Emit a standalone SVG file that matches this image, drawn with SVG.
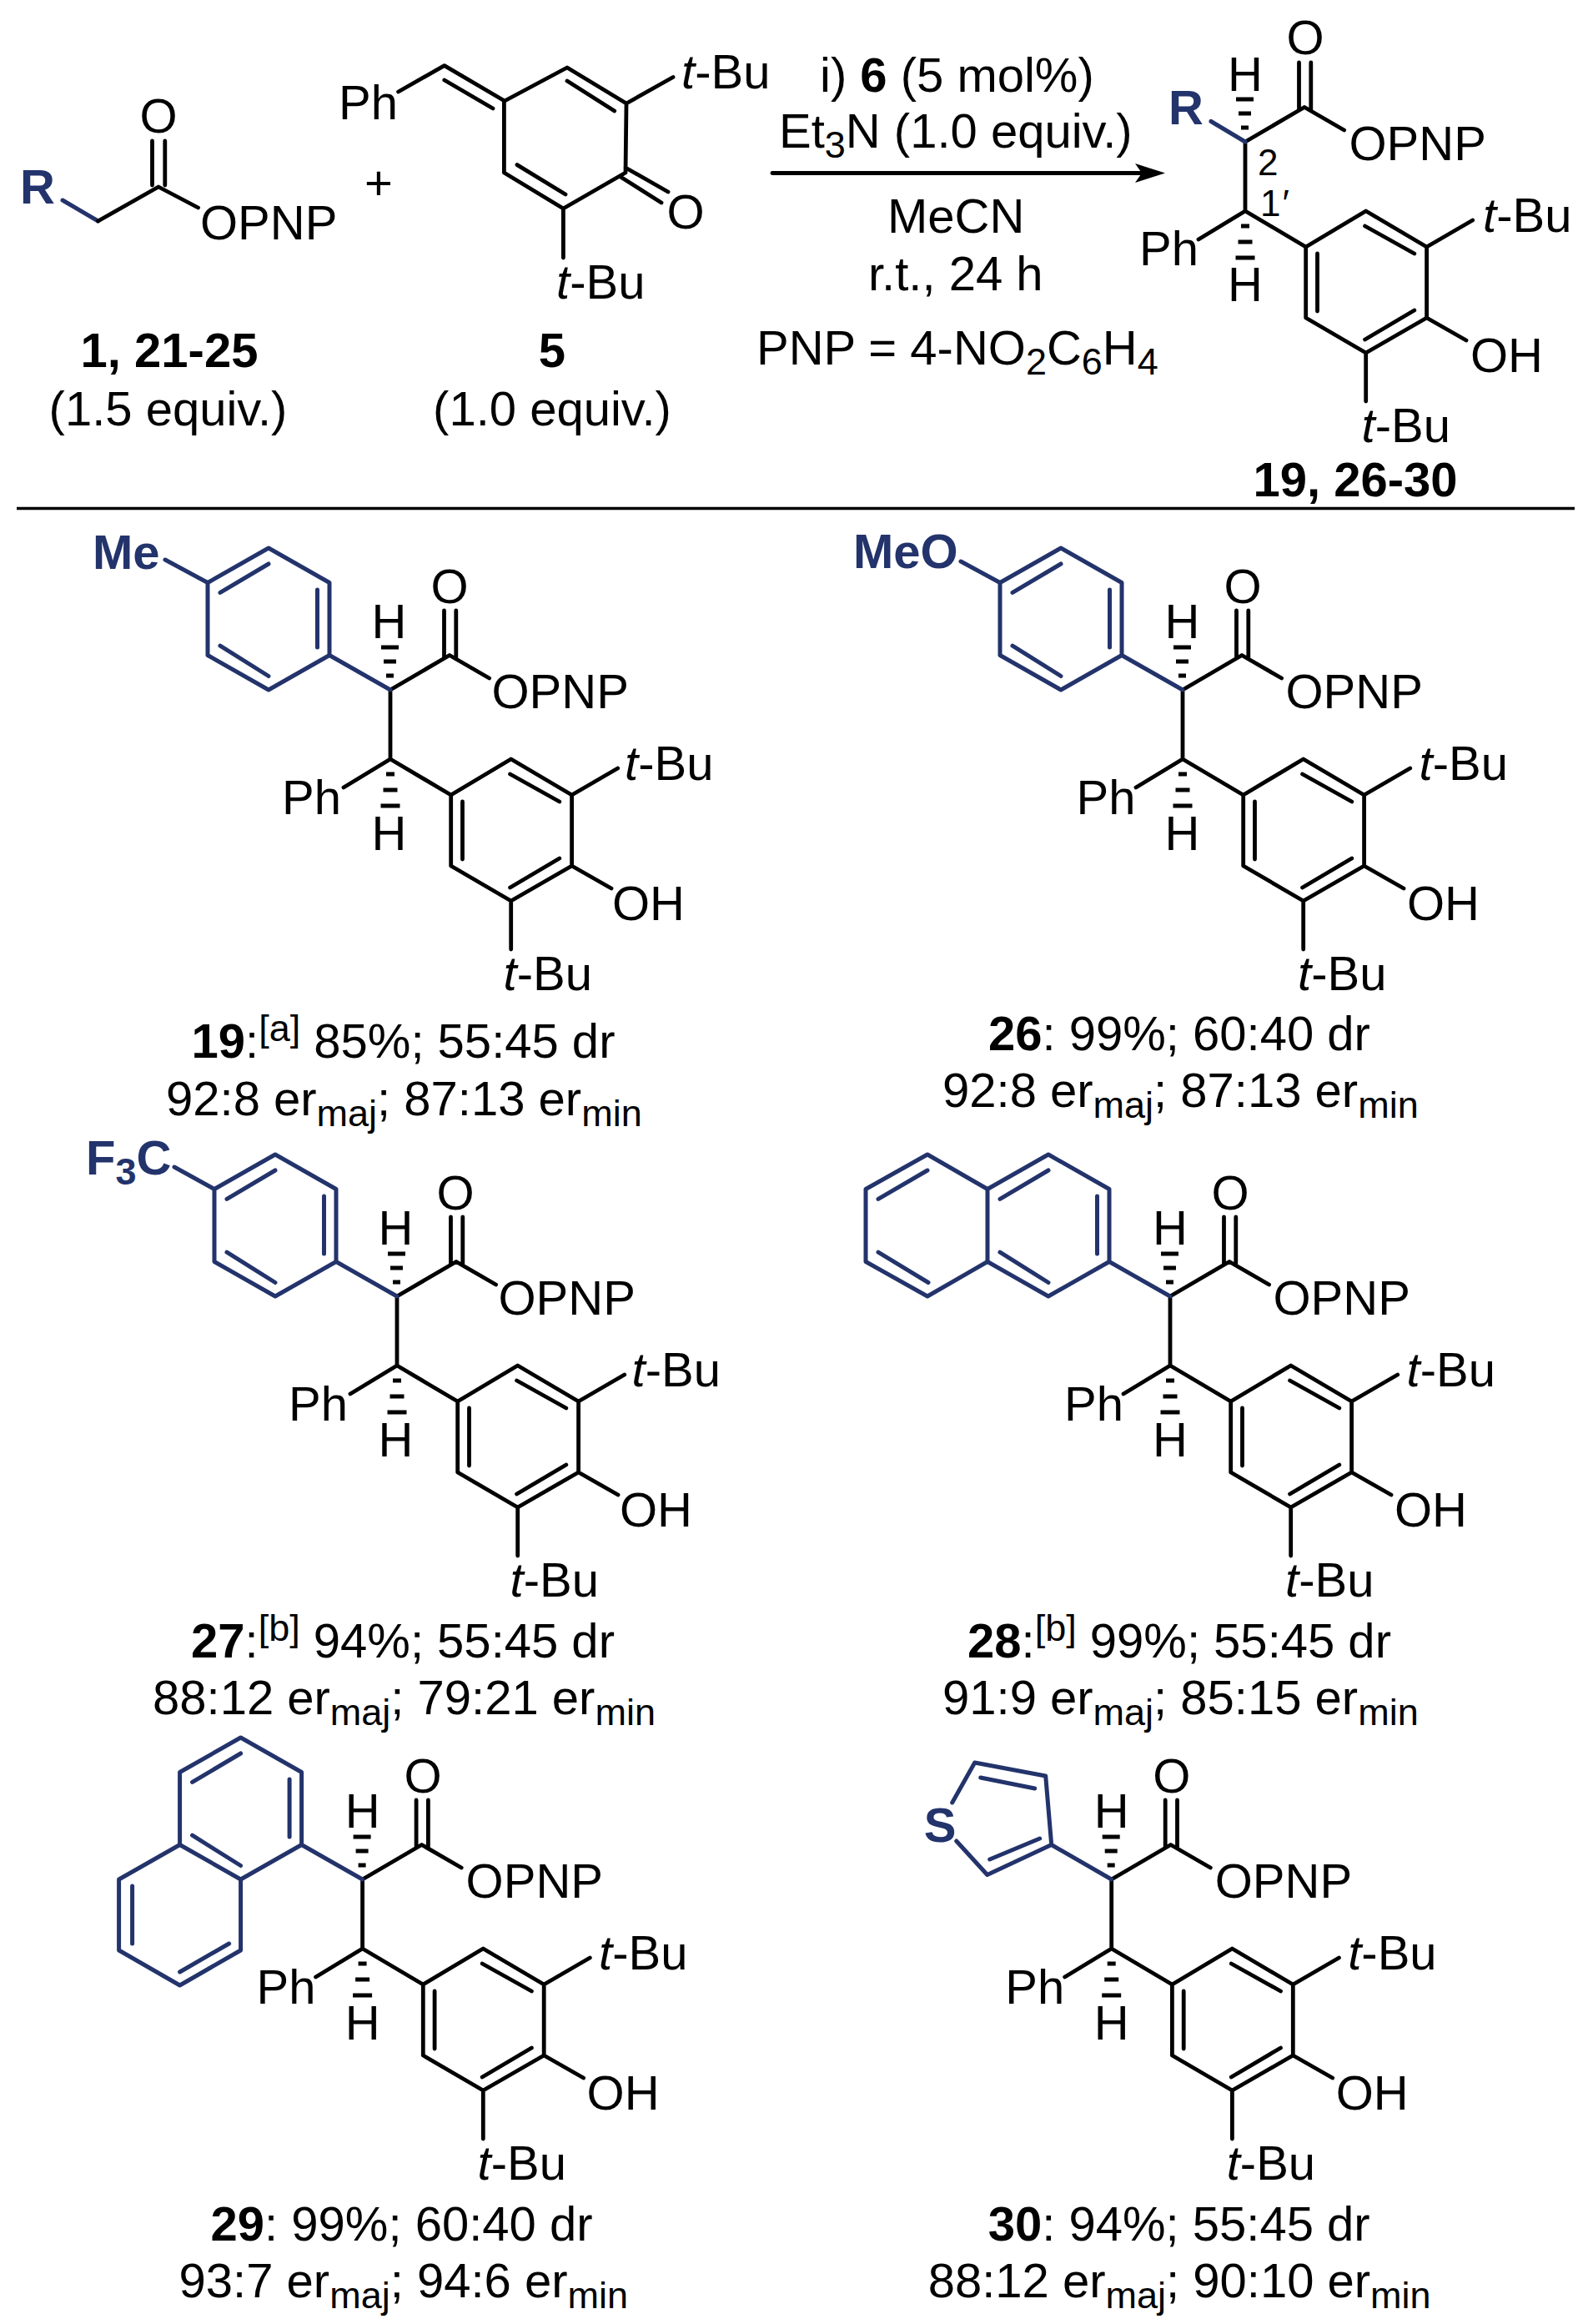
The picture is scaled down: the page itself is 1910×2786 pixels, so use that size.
<svg xmlns="http://www.w3.org/2000/svg" xmlns:xlink="http://www.w3.org/1999/xlink" width="1910" height="2786" viewBox="0 0 1910 2786">
<style>
text{font-family:"Liberation Sans",Arial,sans-serif;font-size:58px;fill:#000}
.m{text-anchor:middle}
.b{font-weight:bold}
.bl{font-weight:bold;fill:#23336b}
.i{font-style:italic}
.s{font-size:45px}
.n{font-size:44px}
.bond{fill:none;stroke:#000;stroke-width:4.8;stroke-linecap:round;stroke-linejoin:round}
.blue{fill:none;stroke:#23336b;stroke-width:5;stroke-linecap:round;stroke-linejoin:round}
.dash{fill:none;stroke:#000;stroke-width:5}
.rule{fill:none;stroke:#000;stroke-width:3.4}
</style>
<defs>
<path id="core" class="bond" d="M0 0V83M0 0L71 -41.5L118.6 -14M64.5 -95V-38M78.8 -95V-38M0 83L-56 117M0 83L72.7 126L144.7 83L217.6 126V211L144.7 253L72.7 211V126M143.6 101L202.8 134M86.5 134V203M143.6 237L202.8 202M217.6 126L272.7 94M217.6 211L265 238M144.7 253V311"/>
<path id="hashes" class="dash" d="M-11 -51H10M-8 -34H7M-5 -17H4M-5 101H5M-8.5 120H8.5M-11.5 139H11.5"/>
<path id="aryl" class="blue" d="M0 0L-73 -41.5V-128.5L-146 -170L-219 -128.5V-41.5L-146 0L-73 -41.5M-87.5 -120V-51M-146 -151L-204 -116.6M-204 -52.8L-146 -16.5"/>
<path id="arrowhead" d="M0 0L-36 -11.5L-28 0L-36 11.5Z" fill="#000"/>
</defs>

<g id="reagent-ester">
<path class="blue" d="M75 240L117.6 265"/>
<path class="bond" d="M117.6 265L190 224L237.6 249M182.5 169V222M197.8 169V222"/>
<text class="bl" x="24" y="244">R</text>
<text class="m" x="190" y="159">O</text>
<text x="240" y="287">OPNP</text>
<text class="m b" x="203" y="440">1, 21-25</text>
<text class="m" x="201.5" y="510">(1.5 equiv.)</text>
</g>
<text id="plus" x="437" y="239">+</text>
<g id="reagent-qm">
<path class="bond" d="M477.6 110L532.8 78.6L605 121L680 81L751 124L750 207L675.4 250L604.4 207V121M532.8 96L591 130M680 97L736.7 133M620 197.6L678 233M751 124L807 92.5M750 201L801 230M744 212L793 243M675.4 250V309"/>
<text x="406" y="143">Ph</text>
<text x="817" y="106"><tspan class="i">t</tspan>-Bu</text>
<text class="m" x="822" y="274">O</text>
<text x="667" y="358"><tspan class="i">t</tspan>-Bu</text>
<text class="m b" x="662" y="440">5</text>
<text class="m" x="662" y="510">(1.0 equiv.)</text>
</g>
<g id="conditions">
<text x="983" y="110">i) <tspan class="b">6</tspan> (5 mol%)</text>
<text x="934" y="177">Et<tspan class="s" dy="12">3</tspan><tspan dy="-12">N (1.0 equiv.)</tspan></text>
<text x="1064" y="279">MeCN</text>
<text x="1041" y="348">r.t., 24 h</text>
<text x="907" y="437">PNP = 4-NO<tspan class="s" dy="12">2</tspan><tspan dy="-12">C</tspan><tspan class="s" dy="12">6</tspan><tspan dy="-12">H</tspan><tspan class="s" dy="12">4</tspan></text>
</g>
<g id="connectors">
<path class="bond" d="M926 207.5H1372"/>
<use xlink:href="#arrowhead" href="#arrowhead" transform="translate(1397,207.5)"/>
</g>
<g id="product-general" transform="translate(1493,170)">
<use xlink:href="#core" href="#core"/><use xlink:href="#hashes" href="#hashes"/>
<path class="blue" d="M-41 -24.5L0 0"/>
<text class="bl" x="-92" y="-20.6">R</text>
<text class="m" x="72" y="-105">O</text>
<text class="m" x="0" y="-61">H</text>
<text x="124.5" y="22">OPNP</text>
<text class="n" x="15" y="40">2</text>
<text class="n" x="18" y="89">1<tspan class="i">′</tspan></text>
<text x="-127" y="148">Ph</text>
<text class="m" x="0" y="190.5">H</text>
<text x="285" y="108"><tspan class="i">t</tspan>-Bu</text>
<text x="270" y="276">OH</text>
<text x="139.5" y="360"><tspan class="i">t</tspan>-Bu</text>
<text class="b" x="9.5" y="425">19, 26-30</text>
</g>
<path id="divider" class="rule" d="M20 609.5H1888"/>

<g id="compound-19" transform="translate(468,827)">
<use xlink:href="#core" href="#core"/><use xlink:href="#hashes" href="#hashes"/><use xlink:href="#aryl" href="#aryl"/>
<path class="blue" d="M-270 -156L-219 -128.5"/>
<text class="bl" x="-357" y="-145">Me</text>
<text class="m" x="71" y="-104">O</text>
<text class="m" x="-1.5" y="-62">H</text>
<text x="121.5" y="22">OPNP</text>
<text x="-130" y="149">Ph</text>
<text class="m" x="-1.5" y="192">H</text>
<text x="281" y="108"><tspan class="i">t</tspan>-Bu</text>
<text x="266" y="276">OH</text>
<text x="135.5" y="360"><tspan class="i">t</tspan>-Bu</text>
<text x="-238.5" y="440.5"><tspan class="b">19</tspan>:<tspan class="s" dy="-20">[a]</tspan><tspan dy="20"> 85%; 55:45 dr</tspan></text>
<text x="-269" y="510">92:8 er<tspan class="s" dy="13">maj</tspan><tspan dy="-13">; 87:13 er</tspan><tspan class="s" dy="13">min</tspan></text>
</g>

<g id="compound-26" transform="translate(1418,827)">
<use xlink:href="#core" href="#core"/><use xlink:href="#hashes" href="#hashes"/><use xlink:href="#aryl" href="#aryl"/>
<path class="blue" d="M-266 -154L-219 -128.5"/>
<text class="bl" x="-395" y="-146">MeO</text>
<text class="m" x="72" y="-104">O</text>
<text class="m" x="-0.5" y="-62">H</text>
<text x="123.5" y="22">OPNP</text>
<text x="-127.5" y="149">Ph</text>
<text class="m" x="-0.5" y="192">H</text>
<text x="283.5" y="108"><tspan class="i">t</tspan>-Bu</text>
<text x="269" y="276">OH</text>
<text x="138" y="360"><tspan class="i">t</tspan>-Bu</text>
<text x="-233" y="432"><tspan class="b">26</tspan>: 99%; 60:40 dr</text>
<text x="-288" y="500">92:8 er<tspan class="s" dy="13">maj</tspan><tspan dy="-13">; 87:13 er</tspan><tspan class="s" dy="13">min</tspan></text>
</g>

<g id="compound-27" transform="translate(476,1554)">
<use xlink:href="#core" href="#core"/><use xlink:href="#hashes" href="#hashes"/><use xlink:href="#aryl" href="#aryl"/>
<path class="blue" d="M-267 -155L-219 -128.5"/>
<text class="bl" x="-373" y="-146.5">F<tspan class="s" dy="12">3</tspan><tspan dy="-12">C</tspan></text>
<text class="m" x="70" y="-104">O</text>
<text class="m" x="-1.5" y="-62">H</text>
<text x="121.5" y="22">OPNP</text>
<text x="-130" y="149">Ph</text>
<text class="m" x="-1.5" y="192">H</text>
<text x="281.5" y="107.5"><tspan class="i">t</tspan>-Bu</text>
<text x="267" y="276">OH</text>
<text x="135.5" y="360"><tspan class="i">t</tspan>-Bu</text>
<text x="-247" y="432.5"><tspan class="b">27</tspan>:<tspan class="s" dy="-20">[b]</tspan><tspan dy="20"> 94%; 55:45 dr</tspan></text>
<text x="-293" y="501">88:12 er<tspan class="s" dy="13">maj</tspan><tspan dy="-13">; 79:21 er</tspan><tspan class="s" dy="13">min</tspan></text>
</g>

<g id="compound-28" transform="translate(1403,1554)">
<use xlink:href="#core" href="#core"/><use xlink:href="#hashes" href="#hashes"/><use xlink:href="#aryl" href="#aryl"/>
<path class="blue" d="M-219 -128.5L-291 -170L-365 -128.5V-41.5L-291 0L-219 -41.5M-291 -151L-350 -116.6M-350 -52.8L-290 -16.5"/>
<text class="m" x="72" y="-104">O</text>
<text class="m" x="0" y="-62">H</text>
<text x="123.5" y="22">OPNP</text>
<text x="-127" y="149">Ph</text>
<text class="m" x="0" y="192">H</text>
<text x="283.5" y="107.5"><tspan class="i">t</tspan>-Bu</text>
<text x="269" y="276">OH</text>
<text x="138" y="360"><tspan class="i">t</tspan>-Bu</text>
<text x="-243" y="432.5"><tspan class="b">28</tspan>:<tspan class="s" dy="-20">[b]</tspan><tspan dy="20"> 99%; 55:45 dr</tspan></text>
<text x="-273" y="501">91:9 er<tspan class="s" dy="13">maj</tspan><tspan dy="-13">; 85:15 er</tspan><tspan class="s" dy="13">min</tspan></text>
</g>

<g id="compound-29" transform="translate(434.6,2253)">
<use xlink:href="#core" href="#core"/><use xlink:href="#hashes" href="#hashes"/><use xlink:href="#aryl" href="#aryl"/>
<path class="blue" d="M-219 -41.5L-292 0V85L-219 127L-146 85V0M-276 8V77M-160 77L-219 111"/>
<text class="m" x="72.5" y="-104">O</text>
<text class="m" x="0" y="-62">H</text>
<text x="124" y="22">OPNP</text>
<text x="-127" y="149">Ph</text>
<text class="m" x="0" y="192">H</text>
<text x="283.5" y="107.5"><tspan class="i">t</tspan>-Bu</text>
<text x="269" y="276">OH</text>
<text x="138" y="360"><tspan class="i">t</tspan>-Bu</text>
<text x="-182" y="432.5"><tspan class="b">29</tspan>: 99%; 60:40 dr</text>
<text x="-220" y="501">93:7 er<tspan class="s" dy="13">maj</tspan><tspan dy="-13">; 94:6 er</tspan><tspan class="s" dy="13">min</tspan></text>
</g>

<g id="compound-30" transform="translate(1332.7,2253)">
<use xlink:href="#core" href="#core"/><use xlink:href="#hashes" href="#hashes"/>
<path class="blue" d="M0 0L-72 -41.5L-79 -124L-164 -140L-191 -92M-186 -46L-149 -5.5L-72 -41.5M-92 -109L-157 -122M-86 -49L-146 -24"/>
<text class="bl" x="-225" y="-45">S</text>
<text class="m" x="72" y="-104">O</text>
<text class="m" x="0" y="-62">H</text>
<text x="124" y="22">OPNP</text>
<text x="-127.5" y="149">Ph</text>
<text class="m" x="0" y="192">H</text>
<text x="283.5" y="107.5"><tspan class="i">t</tspan>-Bu</text>
<text x="269" y="276">OH</text>
<text x="138" y="360"><tspan class="i">t</tspan>-Bu</text>
<text x="-148" y="432.5"><tspan class="b">30</tspan>: 94%; 55:45 dr</text>
<text x="-220" y="501">88:12 er<tspan class="s" dy="13">maj</tspan><tspan dy="-13">; 90:10 er</tspan><tspan class="s" dy="13">min</tspan></text>
</g>
</svg>
